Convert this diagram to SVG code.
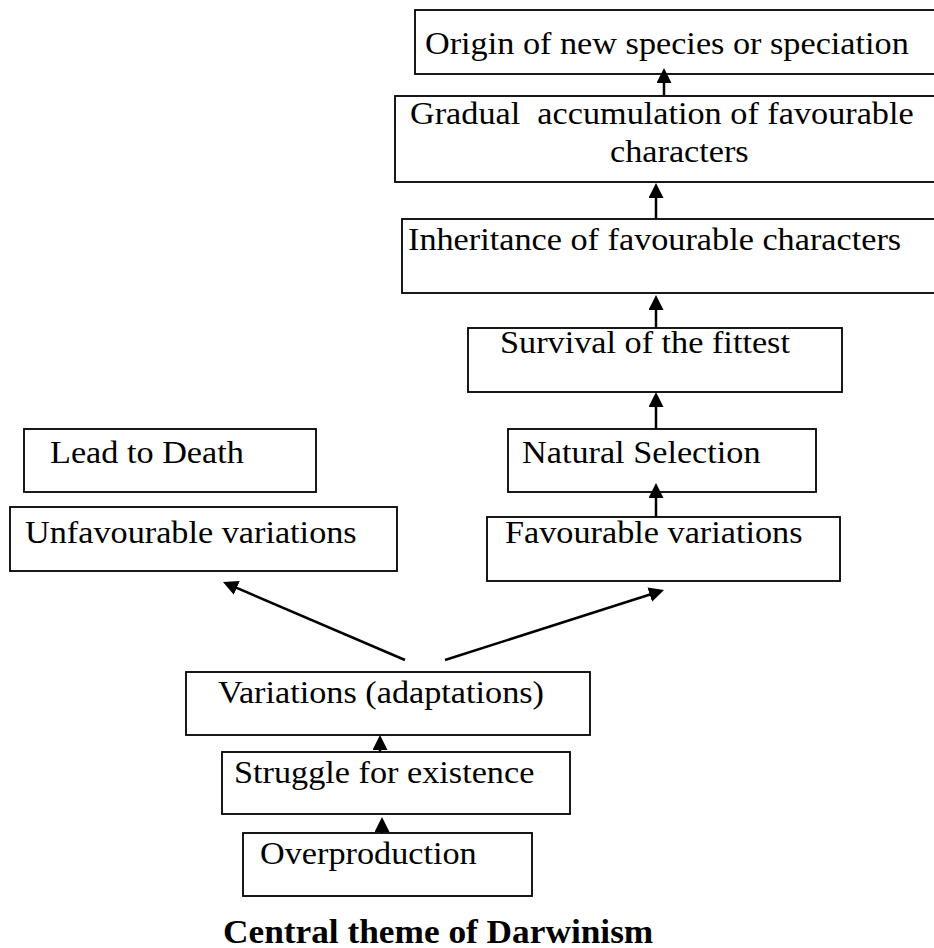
<svg xmlns="http://www.w3.org/2000/svg" width="934" height="948" viewBox="0 0 934 948">
<style>
  rect.box { fill: #fff; stroke: #000; stroke-width: 1.8; }
  text { font-family: "Liberation Serif", "Times New Roman", serif; font-size: 32px; fill: #000; }
  text.cap { font-weight: bold; font-size: 33px; }
  line.conn { stroke: #000; stroke-width: 2.5; marker-end: url(#ah); }
</style>
<defs>
  <marker id="ah" viewBox="0 0 16 16" refX="11.7" refY="8" markerWidth="15" markerHeight="15" markerUnits="userSpaceOnUse" orient="auto">
    <path d="M0,0 L16,8 L0,16 z" fill="#000"/>
  </marker>
</defs>
<rect width="934" height="948" fill="#fff"/>
<g id="origin"><rect class="box" x="415" y="10" width="525" height="64"/><text transform="translate(425 54) scale(1.07 1)">Origin of new species or speciation</text></g>
<g id="gradual"><rect class="box" x="395" y="96" width="545" height="86"/><text xml:space="preserve" transform="translate(410 124) scale(1.07 1)">Gradual  accumulation of favourable</text><text transform="translate(610 162) scale(1.07 1)">characters</text></g>
<g id="inheritance"><rect class="box" x="402" y="219" width="538" height="74"/><text transform="translate(408 250) scale(1.07 1)">Inheritance of favourable characters</text></g>
<g id="survival"><rect class="box" x="468" y="328" width="374" height="64"/><text transform="translate(500 353) scale(1.07 1)">Survival of the fittest</text></g>
<g id="natural"><rect class="box" x="508" y="429" width="308" height="63"/><text transform="translate(522 463) scale(1.07 1)">Natural Selection</text></g>
<g id="favourable"><rect class="box" x="487" y="517" width="353" height="64"/><text transform="translate(505 543) scale(1.07 1)">Favourable variations</text></g>
<g id="death"><rect class="box" x="24" y="429" width="292" height="63"/><text transform="translate(50 463) scale(1.07 1)">Lead to Death</text></g>
<g id="unfavourable"><rect class="box" x="10" y="507" width="387" height="64"/><text transform="translate(25 543) scale(1.07 1)">Unfavourable variations</text></g>
<g id="variations"><rect class="box" x="186" y="672" width="404" height="63"/><text transform="translate(218 703) scale(1.07 1)">Variations (adaptations)</text></g>
<g id="struggle"><rect class="box" x="222" y="752" width="348" height="62"/><text transform="translate(234 783) scale(1.07 1)">Struggle for existence</text></g>
<g id="overproduction"><rect class="box" x="243" y="833" width="289" height="63"/><text transform="translate(260 864) scale(1.07 1)">Overproduction</text></g>
<g id="connectors">
  <line class="conn" x1="664" y1="95" x2="664" y2="72"/>
  <line class="conn" x1="656" y1="219" x2="656" y2="187"/>
  <line class="conn" x1="656" y1="328" x2="656" y2="299"/>
  <line class="conn" x1="656" y1="429" x2="656" y2="396"/>
  <line class="conn" x1="656" y1="517" x2="656" y2="487"/>
  <line class="conn" x1="380" y1="752" x2="380" y2="739"/>
  <line class="conn" x1="382" y1="833" x2="382" y2="821"/>
  <line class="conn" x1="405" y1="660" x2="226.7" y2="583.6"/>
  <line class="conn" x1="445" y1="660" x2="660.2" y2="591.2"/>
</g>
<text class="cap" transform="translate(223 943) scale(1.07 1)">Central theme of Darwinism</text>
</svg>
